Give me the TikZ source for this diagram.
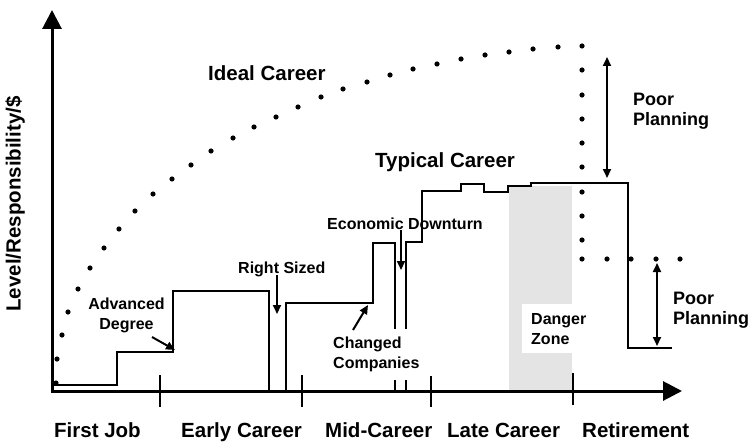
\documentclass[tikz,border=0pt]{standalone}
\usepackage{fontspec}
\setmainfont{Liberation Sans}
\usetikzlibrary{arrows.meta}
\definecolor{zonegray}{RGB}{228,228,228}
\begin{document}
\begin{tikzpicture}[x=1pt,y=-1pt,
  axis/.style={line width=3pt, line cap=rect, -{Triangle[length=19pt,width=19pt]}},
  tick/.style={line width=2.5pt},
  career/.style={line width=2pt, line join=miter},
  pointer/.style={line width=2pt, -{Triangle[length=9pt,width=8pt]}},
  span/.style={line width=2pt, {Triangle[length=9pt,width=8pt]}-{Triangle[length=9pt,width=8pt]}},
  big/.style={font=\fontsize{20.5}{24}\selectfont\bfseries, inner sep=0pt},
  note/.style={font=\fontsize{16}{20}\selectfont\bfseries, inner sep=0pt},
  plan/.style={font=\fontsize{18}{20}\selectfont\bfseries, inner sep=0pt, align=left, anchor=north west},
  blank/.style={fill=white, align=left, anchor=north west}]
\useasboundingbox (0,0) rectangle (751,441);

% danger zone band
\fill[zonegray] (509,186) rectangle (572,391);

% axes
\coordinate (O) at (52,391);
\coordinate (ytip) at (52,10);
\coordinate (xtip) at (682,391);
\draw[axis] (O) -- (ytip);
\draw[axis] (O) -- (xtip);

% phase ticks
\foreach \t/\top/\bot in {160/375/407, 302/375/407, 431/376/407, 573/373/405}
  \draw[tick] (\t,\top) -- (\t,\bot);

% typical career
\draw[career] (53,385) -- (117,385) -- (117,352) -- (173,352) -- (173,291)
  -- (269,291) -- (269,391);
\draw[career] (286,393) -- (286,303) -- (373,303) -- (373,243) -- (395,243)
  -- (395,391);
\draw[career] (406,391) -- (406,242) -- (422,242) -- (422,191) -- (461,191)
  -- (461,184) -- (484,184) -- (484,192) -- (508,192) -- (508,186)
  -- (531,186) -- (531,183) -- (628,183) -- (628,348) -- (672,348);

% ideal career
\foreach \x/\y in {56/383, 57/359, 62/335, 68/312, 78/289, 90/268, 104/248,
    119/229, 135/211, 153/194, 172/179, 191/165, 211/151, 233/138, 254/127,
    276/117, 298/107, 321/97, 343/89, 367/82, 390/75, 413/69, 437/64, 461/59,
    485/55, 509/52, 533/49, 558/47, 582/46,
    582/70, 582/95, 582/119, 582/143, 582/167, 582/192, 582/216, 582/240,
    582/259, 607/259, 631/259, 656/259, 680/259}
  \fill (\x,\y) circle (2.6pt);

% curve names
\node[big, anchor=base west] (ideal) at (208,81) {Ideal Career};
\node[big, anchor=base west] (typical) at (375,167) {Typical Career};

% axis labels
\node[big, rotate=90, anchor=base] (ylab) at (20.5,204) {Level/Responsibility/\$};
\node[big, anchor=base west] (first) at (54,437) {First Job};
\node[big, anchor=base west] (early) at (181,437) {Early Career};
\node[big, anchor=base west] (mid) at (325,437) {Mid-Career};
\node[big, anchor=base west] (late) at (447,437) {Late Career};
\node[big, anchor=base west] (retire) at (582,437) {Retirement};

% event labels
\node[note, align=center, anchor=north] (adv) at (126.5,297.5) {Advanced\\Degree};
\node[note, anchor=base west] (rs) at (238,273.5) {Right Sized};
\node[note, anchor=base west] (econ) at (327,229) {Economic Downturn};
\node[note, blank, inner xsep=4pt, inner ysep=8pt] (chg) at (329,329) {Changed\\Companies};
\node[note, blank, inner sep=9pt] (danger) at (522,304) {Danger\\Zone};

% event pointers
\coordinate (advA) at (152,337);  \coordinate (advB) at (175,350);
\coordinate (rsA) at (277,275);   \coordinate (rsB) at (277,314);
\coordinate (econA) at (401,230); \coordinate (econB) at (401,270);
\coordinate (chgA) at (353,330);  \coordinate (chgB) at (368,305);
\draw[pointer] (advA) -- (advB);
\draw[pointer] (rsA) -- (rsB);
\draw[pointer] (econA) -- (econB);
\draw[pointer] (chgA) -- (chgB);

% planning gaps
\coordinate (gapA) at (607,57);  \coordinate (gapB) at (607,178);
\coordinate (gapC) at (657,263); \coordinate (gapD) at (657,346);
\draw[span] (gapA) -- (gapB);
\draw[span] (gapC) -- (gapD);
\node[plan] (poor1) at (633,93) {Poor\\Planning};
\node[plan] (poor2) at (673,292) {Poor\\Planning};
\end{tikzpicture}
\end{document}
